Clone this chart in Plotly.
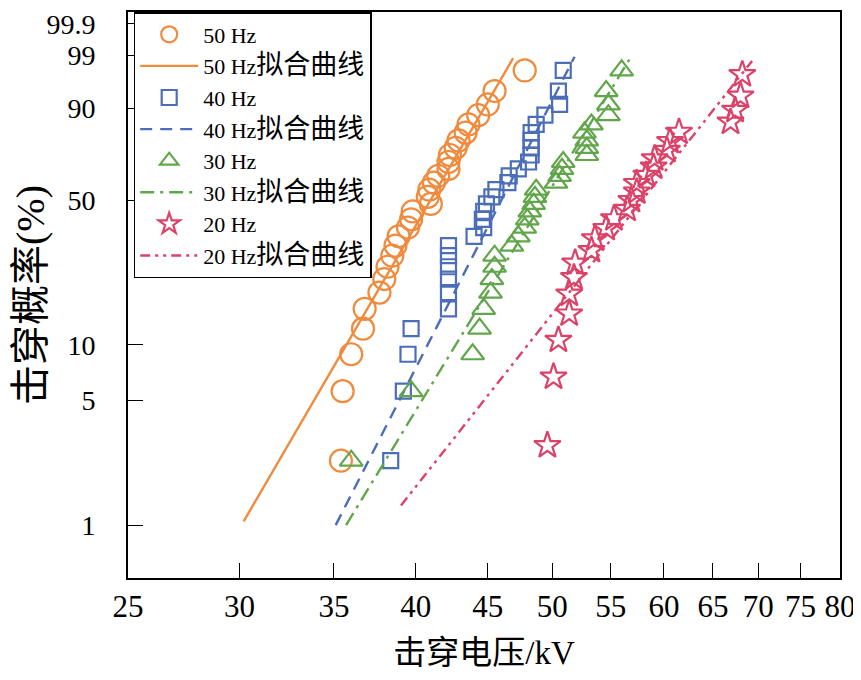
import numpy as np
import plotly.graph_objects as go

# ---------------- data ----------------
# cumulative breakdown probability (%) of each plotted sample
prob_n30 = [2.3, 5.6, 8.9, 12.2, 15.5, 18.8, 22.0, 25.3, 28.6, 31.9,
            35.2, 38.5, 41.8, 45.1, 48.4, 51.6, 54.9, 58.2, 61.5, 64.8,
            68.1, 71.4, 74.7, 78.0, 81.3, 84.5, 87.8, 91.1, 94.4, 97.7]
prob_n25 = [2.8, 6.7, 10.6, 14.6, 18.5, 22.4, 26.4, 30.3, 34.3, 38.2,
            42.1, 46.1, 50.0, 53.9, 57.9, 61.8, 65.7, 69.7, 73.6, 77.6,
            81.5, 85.4, 89.4, 93.3, 97.2]

# breakdown voltages (kV)
v50 = [35.4, 35.5, 36.0, 36.7, 36.8, 37.7, 38.0, 38.2, 38.5, 38.7,
       38.9, 39.5, 39.7, 39.8, 41.0, 40.8, 40.9, 41.2, 41.5, 42.2,
       42.2, 42.3, 42.7, 42.9, 43.4, 43.6, 44.3, 45.0, 45.5, 47.8]
v40 = [38.4, 39.2, 39.5, 39.7, 42.2, 42.2, 42.2, 42.2, 42.2, 42.2,
       44.0, 44.7, 44.6, 44.7, 44.9, 45.3, 45.6, 46.5, 46.6, 47.3,
       48.1, 48.3, 48.3, 48.3, 48.3, 48.7, 49.4, 50.6, 50.5, 50.9]
v30 = [36.0, 39.7, 43.9, 44.4, 44.7, 45.2, 45.3, 45.5, 45.5, 46.8,
       47.3, 47.8, 48.0, 48.2, 48.5, 48.6, 48.7, 50.3, 50.6, 50.8,
       50.9, 52.9, 52.9, 52.9, 52.7, 53.3, 54.8, 54.8, 54.6, 56.0]
v20 = [49.6, 50.1, 50.5, 51.4, 51.4, 51.8, 51.9, 53.3, 53.6, 54.6,
       55.3, 56.5, 56.9, 57.4, 57.4, 58.3, 59.0, 59.1, 60.3, 60.6,
       61.5, 66.9, 67.4, 68.0, 68.2]

# fitted Weibull lines: end points (kV, %)
fit50_v, fit50_p = [30.2, 46.9], [1.05, 98.8]
fit40_v, fit40_p = [35.1, 51.85], [1.0, 98.9]
fit30_v, fit30_p = [35.7, 56.7], [1.0, 98.7]
fit20_v, fit20_p = [39.05, 69.3], [1.29, 98.6]

x_ticks = [25, 30, 35, 40, 45, 50, 55, 60, 65, 70, 75, 80]
y_ticks = [1, 5, 10, 50, 90, 99, 99.9]
y_tick_text = ["1", "5", "10", "50", "90", "99", "99.9"]

freq_labels = ["50 Hz", "40 Hz", "30 Hz", "20 Hz"]
fit_suffix = "拟合曲线"

c50, c40, c30, c20 = "#F08A3C", "#4C6DB8", "#62A64B", "#DC4268"


def wb(p):
    p = np.asarray(p, dtype=float) / 100.0
    return np.log(-np.log(1.0 - p))


FONT = "Liberation Serif, Times New Roman, Noto Sans CJK SC, serif"


def cjk(s, size):
    return "<span style='font-size:%dpx'>%s</span>" % (size, s)


fig = go.Figure()

series = [
    (v50, prob_n30, fit50_v, fit50_p, c50, "circle-open", 22, "solid"),
    (v40, prob_n30, fit40_v, fit40_p, c40, "square-open", 15, "12px,8px"),
    (v30, prob_n30, fit30_v, fit30_p, c30, "triangle-up-open", 20, "14px,6px,3px,6px"),
    (v20, prob_n25, fit20_v, fit20_p, c20, "star-open", 20, "10px,5px,3px,5px,3px,5px"),
]

for i, (v, p, fv, fp, col, sym, sz, dash) in enumerate(series):
    fig.add_trace(go.Scatter(
        x=v, y=wb(p), mode="markers", name=freq_labels[i],
        marker=dict(symbol=sym, size=sz, color=col, line=dict(color=col, width=2.2)),
    ))
    fig.add_trace(go.Scatter(
        x=fv, y=wb(fp), mode="lines", name=freq_labels[i] + cjk(fit_suffix, 27),
        line=dict(color=col, width=2.4, dash=dash),
    ))

# the page body adds an 8 px offset; the figure is sized so that it fits the window
fig.update_layout(
    width=853, height=672,
    margin=dict(l=120, r=21, t=4, b=102),
    paper_bgcolor="white", plot_bgcolor="white",
    font=dict(family=FONT, color="black", size=26),
    showlegend=True,
    legend=dict(
        x=0.008, y=1.0, xanchor="left", yanchor="top",
        bgcolor="white", bordercolor="black", borderwidth=1.5,
        font=dict(family=FONT, size=22, color="black"),
        itemwidth=58, tracegroupgap=0,
    ),
    xaxis=dict(
        type="log", automargin=False,
        range=[np.log10(25), np.log10(80)],
        tickmode="array", tickvals=x_ticks, ticktext=[str(t) for t in x_ticks],
        ticks="inside", ticklen=15, tickwidth=1.3, tickcolor="black",
        showline=True, linecolor="black", linewidth=1.6, mirror=True,
        showgrid=False, zeroline=False,
        tickfont=dict(family=FONT, size=31),
        ticklabelstandoff=0, ticklabeloverflow="allow",
        title=dict(text="击穿电压/kV", font=dict(family=FONT, size=33), standoff=18),
    ),
    yaxis=dict(
        automargin=False,
        range=[-5.29, 2.089],
        tickmode="array", tickvals=list(wb(y_ticks)), ticktext=y_tick_text,
        ticks="inside", ticklen=15, tickwidth=1.3, tickcolor="black",
        showline=True, linecolor="black", linewidth=1.6, mirror=True,
        showgrid=False, zeroline=False,
        tickfont=dict(family=FONT, size=28),
        ticklabelstandoff=25, ticklabeloverflow="allow",
        title=dict(text="击穿概率(%)", font=dict(family=FONT, size=40), standoff=6),
    ),
)

fig.write_html("out.html")
